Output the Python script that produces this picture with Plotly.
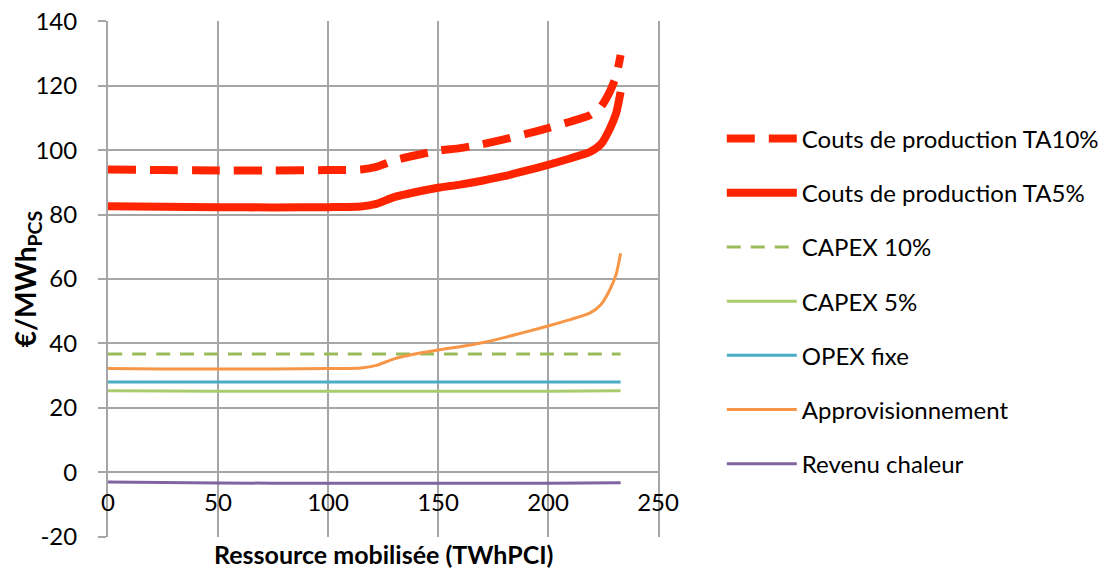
import plotly.graph_objects as go

# ---- data ----
x_cost = [0, 25, 50, 75, 100, 115, 122, 130, 140, 150, 160, 170, 180, 190, 200, 210, 219, 224, 228, 231, 233]
ta10 = [94.0, 93.8, 93.7, 93.7, 93.8, 94.0, 94.8, 96.8, 98.4, 99.8, 100.6, 101.8, 103.3, 105.0, 106.8, 108.8, 110.8, 113.4, 118.0, 123.0, 129.5]
ta5 = [82.6, 82.4, 82.3, 82.2, 82.3, 82.5, 83.3, 85.4, 87.0, 88.3, 89.3, 90.5, 91.9, 93.6, 95.4, 97.4, 99.4, 101.8, 106.5, 111.5, 118.0]
appro = [32.2, 32.1, 32.1, 32.1, 32.2, 32.4, 33.2, 35.2, 36.8, 38.0, 39.0, 40.2, 41.8, 43.6, 45.4, 47.4, 49.4, 52.0, 56.5, 61.5, 68.0]

x_flat = [0, 50, 100, 150, 200, 233]
capex10 = [36.7, 36.7, 36.7, 36.7, 36.7, 36.7]
capex5 = [25.3, 25.2, 25.2, 25.2, 25.2, 25.3]
opex = [28.0, 28.0, 28.0, 28.0, 28.0, 28.0]
revenu = [-3.0, -3.3, -3.4, -3.4, -3.4, -3.2]

x_ticks = [0, 50, 100, 150, 200, 250]
y_ticks = [-20, 0, 20, 40, 60, 80, 100, 120, 140]

FONT = "Lato"
RED = "#FF2400"
GRID = "#A6A6A6"

fig = go.Figure()

series = [
    ("Couts de production TA10%", x_cost, ta10, dict(color=RED, width=8, dash="28px,14px")),
    ("Couts de production TA5%", x_cost, ta5, dict(color=RED, width=8)),
    ("CAPEX 10%", x_flat, capex10, dict(color="#9BBB59", width=3, dash="14px,10px")),
    ("CAPEX 5%", x_flat, capex5, dict(color="#A9CD6E", width=3)),
    ("OPEX fixe", x_flat, opex, dict(color="#4BACC6", width=3)),
    ("Approvisionnement", x_cost, appro, dict(color="#F79646", width=3)),
    ("Revenu chaleur", x_flat, revenu, dict(color="#8064A2", width=3)),
]
for i, (name, xs, ys, line) in enumerate(series):
    fig.add_trace(go.Scatter(x=xs, y=ys, mode="lines", name=name,
                             line=dict(shape="spline", smoothing=0.6, **line),
                             legendgroup=f"g{i}"))

fig.update_layout(
    width=1106, height=568,
    margin=dict(l=100, r=456, t=13, b=39, autoexpand=False),
    paper_bgcolor="white", plot_bgcolor="white",
    font=dict(family=FONT, size=22, color="black"),
    showlegend=True,
    legend=dict(x=1.116, xanchor="left", y=0.815, yanchor="top",
                font=dict(size=24, family=FONT), tracegroupgap=20, itemwidth=70,
                bgcolor="rgba(0,0,0,0)"),
    xaxis=dict(range=[0, 250], tickvals=x_ticks, ticktext=[str(v) for v in x_ticks],
               showgrid=True, gridcolor=GRID, gridwidth=2, zeroline=False,
               anchor="free", position=0.125, showline=False, automargin=False,
               ticklabeloverflow="allow",
               ticks="outside", ticklen=0, tickfont=dict(size=24), ticklabelstandoff=9),
    yaxis=dict(range=[-20.06, 140.06], tickvals=y_ticks, ticktext=[str(v) for v in y_ticks],
               showgrid=True, gridcolor=GRID, gridwidth=2, zeroline=False,
               showline=True, linecolor=GRID, linewidth=2, mirror=True, automargin=False,
               ticklabeloverflow="allow",
               ticks="outside", ticklen=8, tickcolor=GRID, tickwidth=2,
               tickfont=dict(size=24), ticklabelstandoff=16,
               title=dict(text="<b>€/MWh<sub>PCS</sub></b>", font=dict(size=28), standoff=0)),
)

fig.add_annotation(x=0.5, y=-0.032, xref="paper", yref="paper", text="<b>Ressource mobilisée (TWhPCI)</b>",
                   showarrow=False, font=dict(size=25), xanchor="center", yanchor="middle")

fig.write_html("out.html")
